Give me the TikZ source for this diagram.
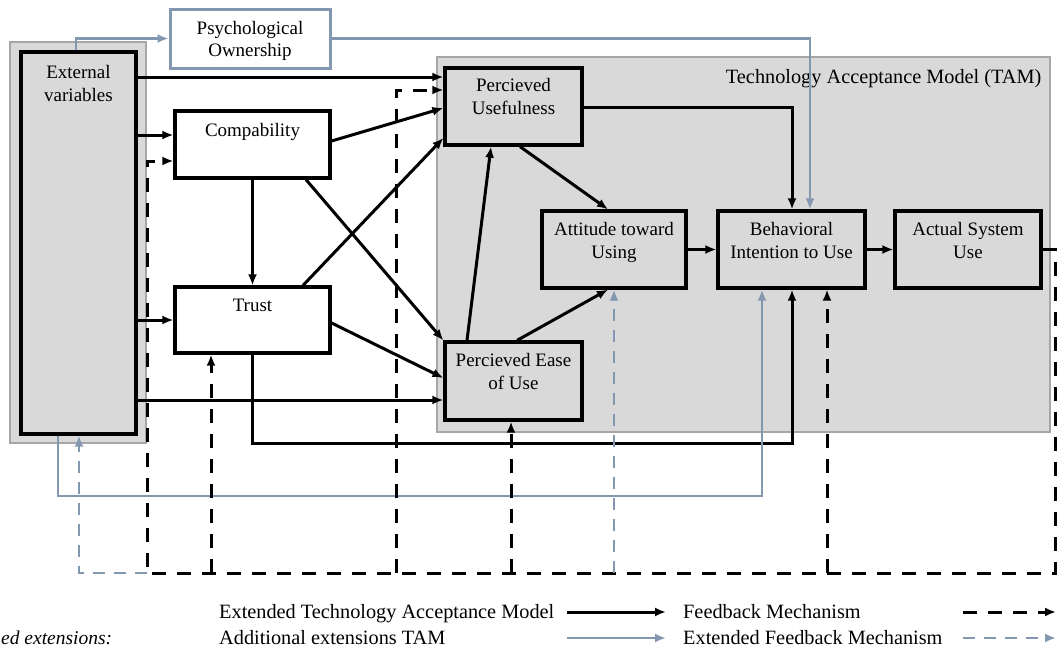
\documentclass[tikz,border=0pt]{standalone}
\usepackage{fontspec}
\setmainfont{Liberation Serif}
\usetikzlibrary{arrows.meta}
\definecolor{tamgray}{HTML}{D9D9D9}
\definecolor{bgline}{HTML}{A6A6A6}
\definecolor{steel}{HTML}{8497B0}

\begin{document}
\begin{tikzpicture}[x=1pt,y=-1pt,
  font=\fontsize{19}{22.5}\selectfont,
  bigfont/.style={font=\fontsize{20.3}{24}\selectfont},
  bgbox/.style={draw=bgline, line width=1.2pt, fill=tamgray, inner sep=0pt},
  box/.style={draw, line width=3.2pt, inner sep=0pt},
  tbox/.style={box, fill=tamgray},
  extbox/.style={draw=steel, line width=3pt, fill=white, inner sep=0pt},
  lbl/.style={inner sep=0pt, align=center, anchor=north},
  tip/.style={-{Latex[length=11pt,width=9pt]}},
  arr/.style={tip, line width=3pt},
  sarr/.style={tip, line width=2.8pt, draw=steel},
  fb/.style={tip, line width=3pt, dash pattern=on 14pt off 11pt},
  efb/.style={tip, line width=2.8pt, draw=steel, dash pattern=on 12pt off 9pt},
]
\useasboundingbox (0,0) rectangle (1058,653);

% grey backgrounds
\node[bgbox, minimum width=136pt, minimum height=401pt] (extbg) at (78,242.5) {};
\node[bgbox, minimum width=613pt, minimum height=375pt] (tambg) at (743.5,244.5) {};
\node[bigfont, inner sep=0pt, anchor=north east] (tamtitle) at ([xshift=-9pt,yshift=-13pt]tambg.north east)
  {Technology Acceptance Model (TAM)};

% boxes
\node[tbox, minimum width=115pt, minimum height=382pt] (ext) at (78.5,243) {};
\node[lbl] (extt) at ([yshift=-15pt]ext.north) {External\\variables};

\node[extbox, minimum width=160pt, minimum height=59pt] (psych) at (250,38.5) {};
\node[inner sep=0pt, align=center] (psycht) at ([yshift=-2.5pt]psych.center) {Psychological\\Ownership};

\node[box, minimum width=155pt, minimum height=67pt] (comp) at (252.5,144.5) {};
\node[lbl] (compt) at ([yshift=-14pt]comp.north) {Compability};

\node[box, minimum width=155pt, minimum height=66pt] (trust) at (252.5,320) {};
\node[lbl] (trustt) at ([yshift=-13pt]trust.north) {Trust};

\node[tbox, minimum width=137pt, minimum height=77pt] (pu) at (513.5,106.5) {};
\node[lbl] (put) at ([yshift=-12pt]pu.north) {Percieved\\Usefulness};

\node[tbox, minimum width=137pt, minimum height=78pt] (peou) at (513.5,381) {};
\node[lbl] (peout) at ([yshift=-13pt]peou.north) {Percieved Ease\\of Use};

\node[tbox, minimum width=144pt, minimum height=77pt] (att) at (614,249.5) {};
\node[lbl] (attt) at ([yshift=-13pt]att.north) {Attitude toward\\Using};

\node[tbox, minimum width=147pt, minimum height=77pt] (beh) at (791.5,249.5) {};
\node[lbl] (beht) at ([yshift=-13pt]beh.north) {Behavioral\\Intention to Use};

\node[tbox, minimum width=146pt, minimum height=77pt] (act) at (968,249.5) {};
\node[lbl] (actt) at ([yshift=-13pt]act.north) {Actual System\\Use};

% extended TAM relations
\draw[arr] (ext.east |- 0,77) -- (pu.west |- 0,77);
\draw[arr] (ext.east |- 0,135) -- (comp.west |- 0,135);
\draw[arr] (ext.east |- 0,320) -- (trust.west |- 0,320);
\draw[arr] (ext.east |- 0,400) -- (peou.west |- 0,400);
\draw[arr] (comp.east |- 0,141) -- (pu.west |- 0,108);
\draw[arr] (comp.south) -- (trust.north);
\draw[arr] (comp.south -| 306,0) -- (peou.north west);
\draw[arr] (trust.north -| 303,0) -- (pu.west |- 0,138);
\draw[arr] (trust.east |- 0,323) -- (peou.west |- 0,378);
\draw[arr] (peou.north -| 467,0) -- (pu.south -| 491,0);
\draw[arr] (peou.north -| 517,0) -- (att.south -| 608,0);
\draw[arr] (pu.south -| 520,0) -- (att.north -| 608,0);
\draw[arr] (pu.east |- 0,107) -| (beh.north -| 792,0);
\draw[arr] (att.east) -- (beh.west);
\draw[arr] (beh.east) -- (act.west);
\coordinate (trbend) at (252.5,443);
\draw[arr] (trust.south) -- (trbend) -| (beh.south -| 792,0);

% additional extensions
\draw[sarr] (ext.north -| 76,0) |- (psych.west);
\draw[sarr] (psych.east) -| (beh.north -| 810,0);
\coordinate (extbend) at (58,496);
\draw[sarr] (ext.south -| 58,0) -- (extbend) -| (beh.south -| 762,0);

% feedback mechanism
\coordinate (fbR) at (1055,573);
\coordinate (fbL) at (147,573);
\coordinate (fbT) at (211,573);
\coordinate (fbU) at (396,573);
\coordinate (fbE) at (511,573);
\coordinate (fbA) at (614,573);
\coordinate (fbB) at (827,573);
\draw[fb] (act.east) -- (act.east -| fbR) -- (fbR) -- (fbL) |- (comp.west |- 0,161);
\draw[fb] (fbT) -- (trust.south -| fbT);
\draw[fb] (fbU) |- (pu.west |- 0,90);
\draw[fb] (fbE) -- (peou.south -| fbE);
\draw[fb] (fbB) -- (beh.south -| fbB);

% extended feedback mechanism
\draw[efb] (fbL) -| (ext.south -| 79,0);
\draw[efb] (fbA) -- (att.south -| fbA);

% legend
\node[inner sep=0pt, anchor=base west, font=\fontsize{19.5}{24}\selectfont\itshape] (lgcap) at (1,644) {ed extensions:};
\node[bigfont, inner sep=0pt, anchor=base west] (lg1) at (219,618) {Extended Technology Acceptance Model};
\node[bigfont, inner sep=0pt, anchor=base west] (lg2) at (219,644) {Additional extensions TAM};
\node[bigfont, inner sep=0pt, anchor=base west] (lg3) at (683,618) {Feedback Mechanism};
\node[bigfont, inner sep=0pt, anchor=base west] (lg4) at (683,644) {Extended Feedback Mechanism};
\coordinate (la1) at (567,612); \coordinate (lb1) at (666,612);
\coordinate (la2) at (567,638); \coordinate (lb2) at (666,638);
\coordinate (la3) at (963,612); \coordinate (lb3) at (1056,612);
\coordinate (la4) at (963,638); \coordinate (lb4) at (1056,638);
\draw[arr] (la1) -- (lb1);
\draw[sarr] (la2) -- (lb2);
\draw[fb] (la3) -- (lb3);
\draw[efb] (la4) -- (lb4);
\end{tikzpicture}
\end{document}
